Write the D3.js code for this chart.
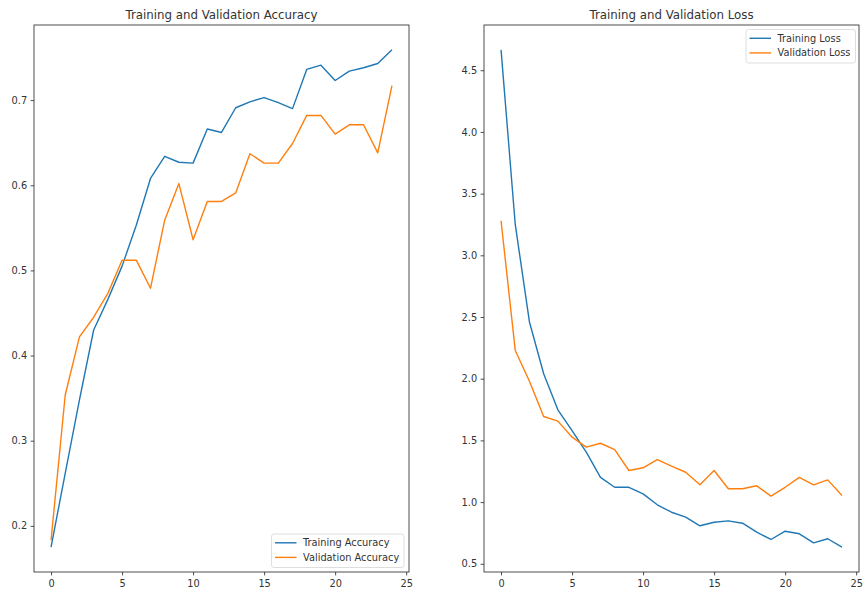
<!DOCTYPE html>
<html>
<head>
<meta charset="utf-8">
<script src="https://cdn.jsdelivr.net/npm/d3@7/dist/d3.min.js"></script>
<style>
  body { margin: 0; background: #fff; }
  svg { display: block; font-family: "DejaVu Sans", sans-serif; }
</style>
</head>
<body>
<svg id="chart" width="863" height="592"></svg>
<script>
const epochs = d3.range(25);

const trainAcc = [0.175, 0.262, 0.348, 0.430, 0.466, 0.505, 0.553, 0.608, 0.634, 0.627, 0.626,
  0.666, 0.662, 0.691, 0.698, 0.703, 0.697, 0.690, 0.736, 0.741, 0.723, 0.734, 0.738, 0.743, 0.759];
const valAcc = [0.183, 0.354, 0.422, 0.445, 0.473, 0.512, 0.512, 0.479, 0.559, 0.602, 0.536,
  0.581, 0.581, 0.591, 0.637, 0.626, 0.626, 0.649, 0.682, 0.682, 0.660, 0.671, 0.671, 0.638, 0.717];

const trainLoss = [4.665, 3.25, 2.46, 2.04, 1.748, 1.58, 1.405, 1.20, 1.12, 1.12, 1.067,
  0.978, 0.918, 0.878, 0.808, 0.837, 0.848, 0.829, 0.756, 0.697, 0.764, 0.743, 0.670, 0.703, 0.635];
const valLoss = [3.28, 2.229, 1.98, 1.694, 1.656, 1.526, 1.445, 1.477, 1.426, 1.256, 1.278,
  1.345, 1.291, 1.242, 1.140, 1.256, 1.108, 1.108, 1.132, 1.048, 1.12, 1.20, 1.14, 1.18, 1.053];

const xTicks = [0, 5, 10, 15, 20, 25];
const accTicks = [0.2, 0.3, 0.4, 0.5, 0.6, 0.7];
const lossTicks = [0.5, 1.0, 1.5, 2.0, 2.5, 3.0, 3.5, 4.0, 4.5];

const BLUE = "#1f77b4", ORANGE = "#ff7f0e";

const svg = d3.select("#chart");

// matplotlib style 5% margins
function padded(values) {
  const [lo, hi] = d3.extent(values);
  const m = (hi - lo) * 0.05;
  return [lo - m, hi + m];
}

function drawPanel(opts) {
  const {left, top, width, height, title, series, yTicks, yFmt, legendPos} = opts;
  const g = svg.append("g").attr("transform", `translate(${left},${top})`);

  const x = d3.scaleLinear().domain(padded(epochs)).range([0, width]);
  const y = d3.scaleLinear()
    .domain(padded(series[0].values.concat(series[1].values)))
    .range([height, 0]);

  const line = d3.line().x((d, i) => x(epochs[i])).y(d => y(d));

  series.forEach(s => {
    g.append("path")
      .datum(s.values)
      .attr("fill", "none")
      .attr("stroke", s.color)
      .attr("stroke-width", 1.4)
      .attr("stroke-linejoin", "round")
      .attr("d", line);
  });

  const xAxis = g.append("g")
    .attr("transform", `translate(0,${height})`)
    .call(d3.axisBottom(x).tickValues(xTicks).tickSize(3.4).tickPadding(4.3).tickFormat(d3.format("d")));
  const yAxis = g.append("g")
    .call(d3.axisLeft(y).tickValues(yTicks).tickSize(3.4).tickPadding(3.4).tickFormat(d3.format(yFmt)));

  [xAxis, yAxis].forEach(a => {
    a.select(".domain").remove();
    a.selectAll(".tick line").attr("stroke", "#222").attr("stroke-width", 0.8);
    a.selectAll(".tick text").attr("fill", "#333").style("font-size", "9.8px")
      .style("font-family", "DejaVu Sans, sans-serif");
  });

  // frame
  g.append("rect")
    .attr("width", width).attr("height", height)
    .attr("fill", "none").attr("stroke", "#222").attr("stroke-width", 0.8);

  g.append("text")
    .attr("x", width / 2).attr("y", -6)
    .attr("text-anchor", "middle")
    .attr("fill", "#333")
    .style("font-size", "11.8px")
    .text(title);

  // legend
  const lg = g.append("g").attr("transform", `translate(${legendPos[0]},${legendPos[1]})`);
  lg.append("rect")
    .attr("width", legendPos[2]).attr("height", 33.5)
    .attr("rx", 2.5)
    .attr("fill", "#fff").attr("fill-opacity", 0.8)
    .attr("stroke", "#d5d5d5").attr("stroke-width", 0.8);
  series.forEach((s, i) => {
    const yy = 8.8 + i * 14.6;
    lg.append("line")
      .attr("x1", 3.5).attr("x2", 25).attr("y1", yy).attr("y2", yy)
      .attr("stroke", s.color).attr("stroke-width", 1.4);
    lg.append("text")
      .attr("x", 31.5).attr("y", yy + 3.5)
      .attr("fill", "#333")
      .style("font-size", "9.8px")
      .text(s.name);
  });
}

drawPanel({
  left: 34, top: 25, width: 375, height: 547,
  title: "Training and Validation Accuracy",
  series: [
    {name: "Training Accuracy", values: trainAcc, color: BLUE},
    {name: "Validation Accuracy", values: valAcc, color: ORANGE}
  ],
  yTicks: accTicks, yFmt: ".1f",
  legendPos: [237.5, 509, 132.5]
});

drawPanel({
  left: 484, top: 25, width: 375, height: 547,
  title: "Training and Validation Loss",
  series: [
    {name: "Training Loss", values: trainLoss, color: BLUE},
    {name: "Validation Loss", values: valLoss, color: ORANGE}
  ],
  yTicks: lossTicks, yFmt: ".1f",
  legendPos: [262, 4.5, 109.5]
});
</script>
</body>
</html>
